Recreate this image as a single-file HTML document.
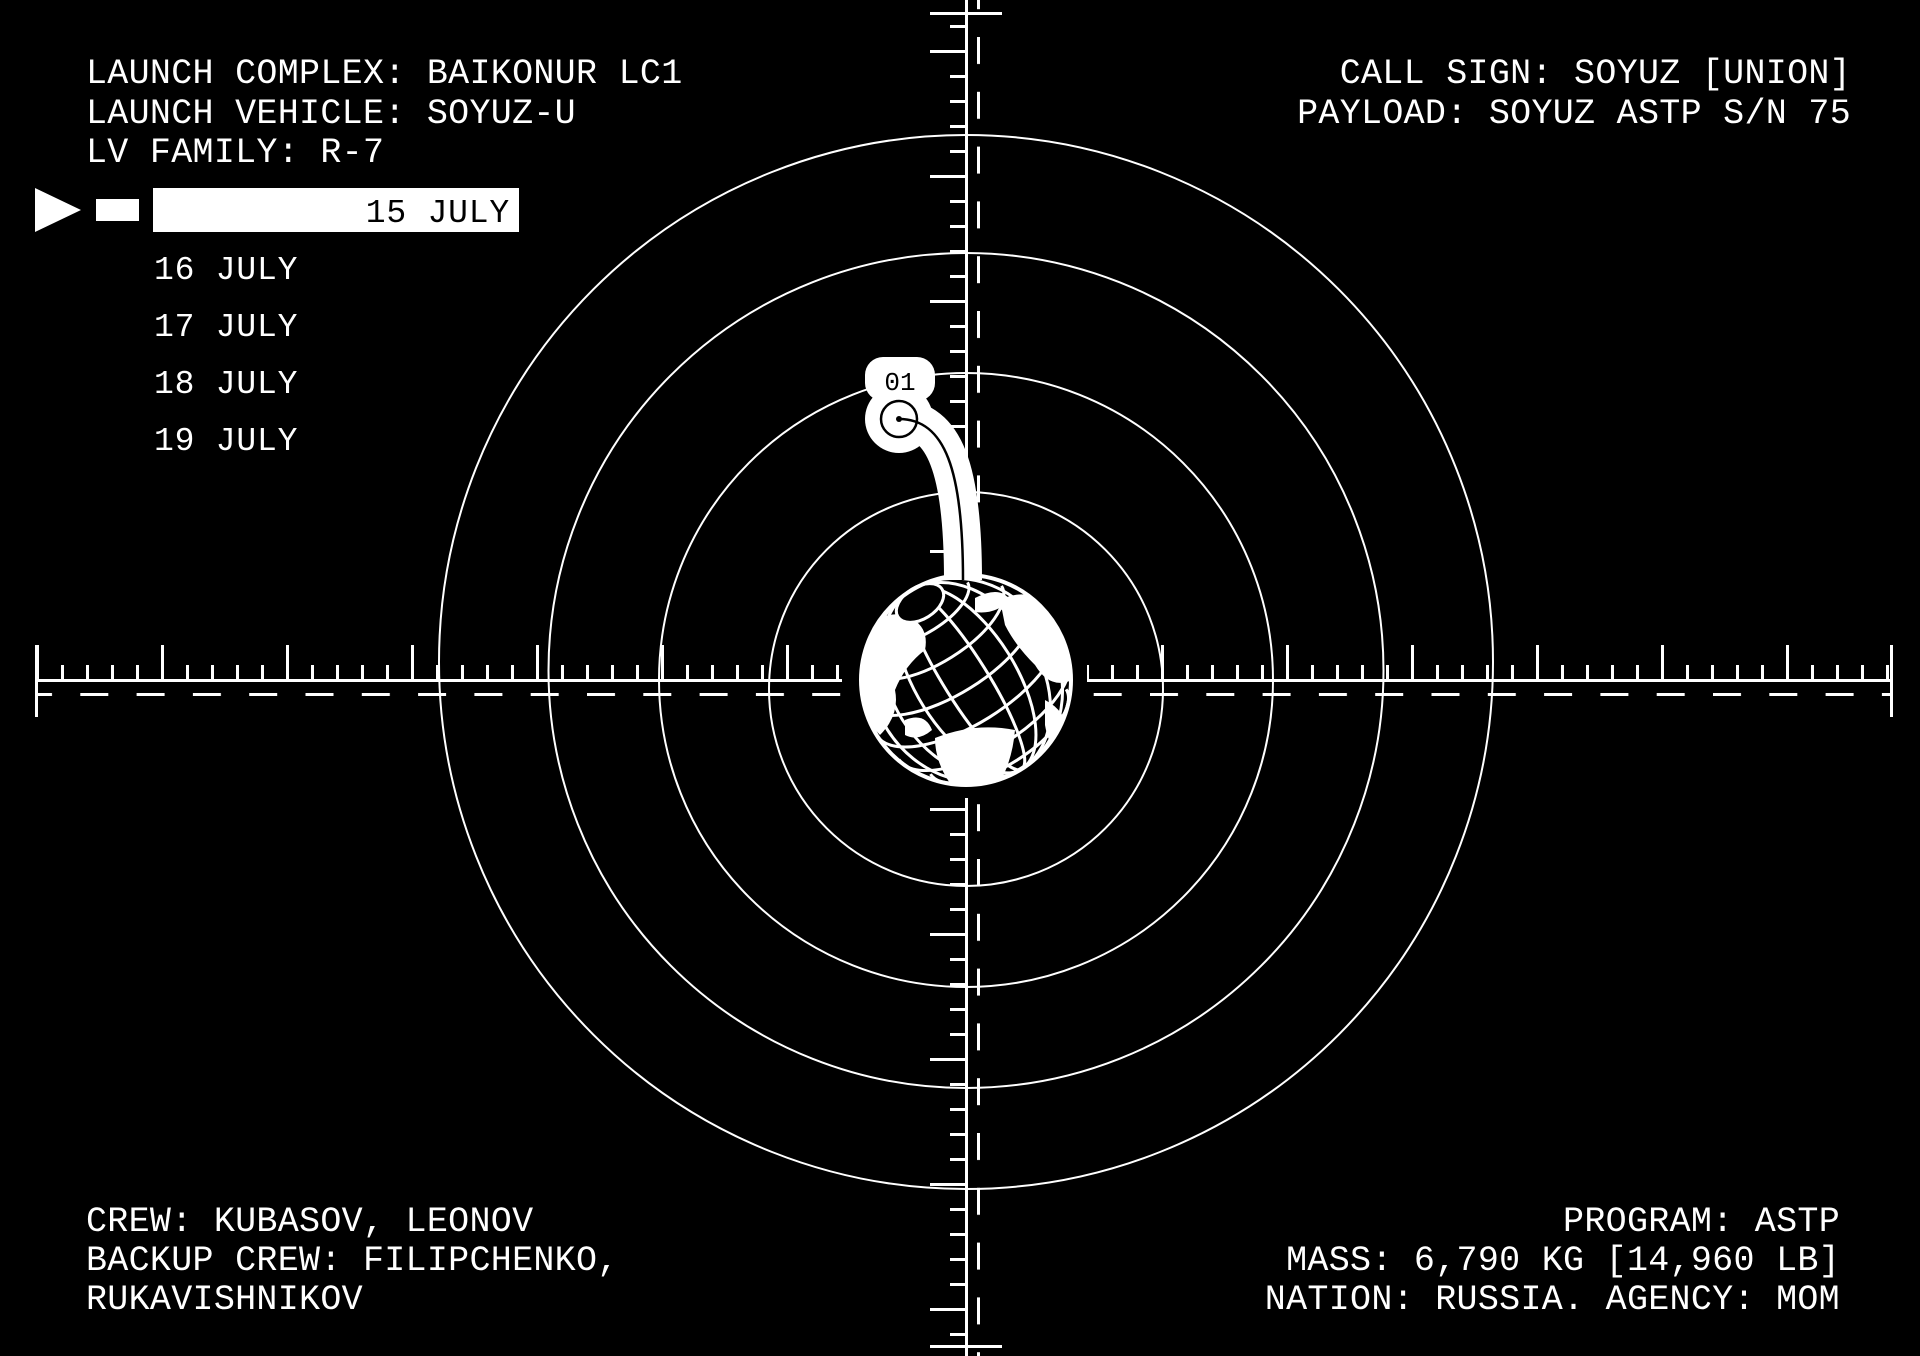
<!DOCTYPE html>
<html><head><meta charset="utf-8"><style>
html,body{margin:0;padding:0;background:#000;}
svg{display:block}
text{font-family:"Liberation Mono","DejaVu Sans Mono",monospace;fill:#fff;}
</style></head><body>
<svg width="1920" height="1356" viewBox="0 0 1920 1356" xmlns="http://www.w3.org/2000/svg">
<defs>
<pattern id="hmin" patternUnits="userSpaceOnUse" x="36" y="0" width="25" height="1356"><rect x="0" y="665" width="3" height="16" fill="#fff"/></pattern>
<pattern id="hmaj" patternUnits="userSpaceOnUse" x="36" y="0" width="125" height="1356"><rect x="0" y="645" width="3" height="36" fill="#fff"/></pattern>
<pattern id="hdash" patternUnits="userSpaceOnUse" x="24" y="0" width="56.3" height="1356"><rect x="0" y="693" width="28" height="3" fill="#fff"/></pattern>
<pattern id="vmin" patternUnits="userSpaceOnUse" x="0" y="0" width="1920" height="25"><rect x="950" y="0" width="16" height="3" fill="#fff"/></pattern>
<pattern id="vmaj" patternUnits="userSpaceOnUse" x="0" y="50" width="1920" height="125"><rect x="930" y="0" width="36" height="3" fill="#fff"/></pattern>
<pattern id="vmin2" patternUnits="userSpaceOnUse" x="0" y="8" width="1920" height="25"><rect x="950" y="0" width="16" height="3" fill="#fff"/></pattern>
<pattern id="vmaj2" patternUnits="userSpaceOnUse" x="0" y="58" width="1920" height="125"><rect x="930" y="0" width="36" height="3" fill="#fff"/></pattern>
<pattern id="vdash" patternUnits="userSpaceOnUse" x="0" y="37" width="1920" height="54.8"><rect x="977" y="0" width="3" height="27" fill="#fff"/></pattern>
<clipPath id="gc"><circle cx="966" cy="680" r="104"/></clipPath>
</defs>
<rect width="1920" height="1356" fill="#000"/>

<!-- circles -->
<g fill="none" stroke="#fff" stroke-width="2">
<circle cx="966" cy="662" r="527"/>
<circle cx="966" cy="670.5" r="417.5"/>
<circle cx="966" cy="680" r="307"/>
<circle cx="966" cy="689" r="197"/>
</g>

<!-- horizontal ruler -->
<rect x="36" y="679" width="806" height="3" fill="#fff"/>
<rect x="1087" y="679" width="806" height="3" fill="#fff"/>
<rect x="36" y="645" width="806" height="36" fill="url(#hmin)"/>
<rect x="1087" y="645" width="806" height="36" fill="url(#hmin)"/>
<rect x="36" y="645" width="806" height="36" fill="url(#hmaj)"/>
<rect x="1087" y="645" width="806" height="36" fill="url(#hmaj)"/>
<rect x="36" y="690" width="806" height="10" fill="url(#hdash)"/>
<rect x="1087" y="690" width="806" height="10" fill="url(#hdash)"/>
<rect x="35" y="645" width="3" height="72" fill="#fff"/>
<rect x="1890" y="645" width="3" height="72" fill="#fff"/>

<!-- vertical ruler -->
<rect x="965" y="0" width="3" height="580" fill="#fff"/>
<rect x="965" y="798" width="3" height="558" fill="#fff"/>
<rect x="930" y="20" width="36" height="560" fill="url(#vmin)"/>
<rect x="930" y="20" width="36" height="560" fill="url(#vmaj)"/>
<rect x="930" y="805" width="36" height="535" fill="url(#vmin2)"/>
<rect x="930" y="805" width="36" height="535" fill="url(#vmaj2)"/>
<rect x="970" y="0" width="20" height="1356" fill="url(#vdash)"/>
<rect x="930" y="12" width="72" height="3" fill="#fff"/>
<rect x="930" y="1345" width="72" height="3" fill="#fff"/>

<!-- globe -->
<circle cx="966" cy="680" r="112" fill="#000"/>
<g clip-path="url(#gc)" fill="#fff">
<path d="M862 640 Q875 610 905 615 Q930 625 925 650 Q905 665 895 690 Q900 715 880 735 Q865 720 860 690 Z"/>
<path d="M1000 600 Q1030 585 1055 610 Q1075 640 1072 680 Q1050 690 1035 665 Q1015 645 1005 625 Z"/>
<path d="M1045 700 Q1075 715 1070 760 Q1050 755 1045 725 Z"/>
<path d="M935 738 Q975 722 1015 730 Q1012 765 995 790 L955 790 Q935 765 935 738 Z"/>
<path d="M905 720 Q925 712 932 730 Q918 742 905 735 Z"/>
<path d="M975 598 Q1000 585 1010 600 Q995 615 975 612 Z"/>
</g>
<g clip-path="url(#gc)" fill="none" stroke="#fff" stroke-width="3">
<g transform="rotate(-32 966 680)">
<ellipse cx="966" cy="680" rx="22" ry="105"/>
<ellipse cx="966" cy="680" rx="50" ry="105"/>
<ellipse cx="966" cy="680" rx="75" ry="105"/>
<ellipse cx="966" cy="680" rx="93" ry="105"/>
<path d="M861 680 A105 44 0 0 0 1071 680"/>
<path d="M867 647 A99 42 0 0 0 1065 647"/>
<path d="M886 619 A80 34 0 0 0 1046 619"/>
<path d="M913 598 A53 22 0 0 0 1019 598"/>
<path d="M867 712 A99 42 0 0 0 1065 712"/>
<path d="M886 741 A80 34 0 0 0 1046 741"/>
<path d="M913 762 A53 22 0 0 0 1019 762"/>
</g>
</g>
<ellipse cx="920" cy="603" rx="26" ry="16" transform="rotate(-32 920 603)" fill="#000" stroke="#fff" stroke-width="3"/>
<circle cx="966" cy="680" r="105" fill="none" stroke="#fff" stroke-width="4"/>

<!-- balloon connector -->
<path d="M899 419 C945 419 963 470 963 580" fill="none" stroke="#fff" stroke-width="38"/>
<circle cx="899" cy="419" r="34" fill="#fff"/>
<circle cx="884" cy="378" r="19" fill="#fff"/>
<circle cx="915" cy="378" r="19" fill="#fff"/>
<rect x="865" y="357" width="70" height="44" rx="18" fill="#fff"/>
<path d="M899 419 C945 419 963 470 963 580" fill="none" stroke="#000" stroke-width="2.5"/>
<circle cx="899" cy="419" r="18" fill="none" stroke="#000" stroke-width="2.5"/>
<circle cx="899" cy="419" r="3" fill="#000"/>
<text x="900" y="390" font-size="26" text-anchor="middle" style="fill:#000">01</text>

<!-- header text -->
<g font-size="35" letter-spacing="0.3">
<text x="86" y="83">LAUNCH COMPLEX: BAIKONUR LC1</text>
<text x="86" y="123">LAUNCH VEHICLE: SOYUZ-U</text>
<text x="86" y="162">LV FAMILY: R-7</text>
<text x="1851" y="83" text-anchor="end">CALL SIGN: SOYUZ [UNION]</text>
<text x="1851" y="123" text-anchor="end">PAYLOAD: SOYUZ ASTP S/N 75</text>
<text x="86" y="1231">CREW: KUBASOV, LEONOV</text>
<text x="86" y="1270">BACKUP CREW: FILIPCHENKO,</text>
<text x="86" y="1309">RUKAVISHNIKOV</text>
<text x="1840" y="1231" text-anchor="end">PROGRAM: ASTP</text>
<text x="1840" y="1270" text-anchor="end">MASS: 6,790 KG [14,960 LB]</text>
<text x="1840" y="1309" text-anchor="end">NATION: RUSSIA. AGENCY: MOM</text>
</g>

<!-- date list -->
<polygon points="35,188 81,210 35,232" fill="#fff"/>
<rect x="96" y="199" width="43" height="22" fill="#fff"/>
<rect x="153" y="188" width="366" height="44" fill="#fff"/>
<g font-size="33" letter-spacing="0.8">
<text x="510" y="222" text-anchor="end" style="fill:#000">15 JULY</text>
<text x="154" y="279">16 JULY</text>
<text x="154" y="336">17 JULY</text>
<text x="154" y="393">18 JULY</text>
<text x="154" y="450">19 JULY</text>
</g>
</svg>
</body></html>
